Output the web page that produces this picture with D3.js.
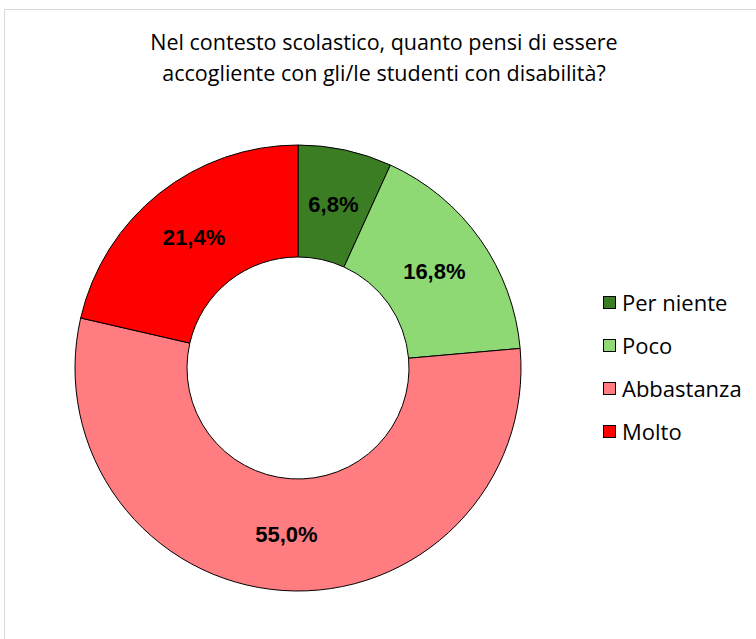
<!DOCTYPE html>
<html>
<head>
<meta charset="utf-8">
<script src="https://cdn.jsdelivr.net/npm/d3@7.9.0/dist/d3.min.js"></script>
<style>
  body { margin: 0; background: #fff; }
  svg { display: block; }
</style>
</head>
<body>
<svg id="chart" width="756" height="639"></svg>
<script>
const categories = ['Per niente', 'Poco', 'Abbastanza', 'Molto'];
const values = [6.8, 16.8, 55.0, 21.4];
const colorsList = ['#3b7d23', '#8ed973', '#ff7c80', '#ff0000'];
const titleLines = ['Nel contesto scolastico, quanto pensi di essere', 'accogliente con gli/le studenti con disabilità?'];

const svg = d3.select('#chart');

// chart area frame
svg.append('path')
  .attr('d', 'M4.5,639 V9.5 H756')
  .attr('fill', 'none')
  .attr('stroke', '#d9d9d9')
  .attr('stroke-width', 1);

svg.append('text')
  .attr('text-anchor', 'middle')
  .attr('font-family', 'Open Sans, sans-serif')
  .attr('font-size', 21.5)
  .attr('fill', '#000')
  .selectAll('tspan')
  .data(titleLines)
  .join('tspan')
  .attr('x', 384)
  .attr('y', (d, i) => 50 + i * 31)
  .text(d => d);

const color = d3.scaleOrdinal().domain(categories).range(colorsList);
const data = categories.map((c, i) => ({ label: c, value: values[i] }));

const cx = 298, cy = 368, outerR = 223, innerR = 111;
const pie = d3.pie().value(d => d.value).sort(null);
const arc = d3.arc().innerRadius(innerR).outerRadius(outerR);
const labelArc = d3.arc().innerRadius((innerR + outerR) / 2).outerRadius((innerR + outerR) / 2);

const g = svg.append('g').attr('transform', `translate(${cx},${cy})`);
const arcs = pie(data);

g.selectAll('path')
  .data(arcs)
  .join('path')
  .attr('d', arc)
  .attr('fill', d => color(d.data.label))
  .attr('stroke', '#000')
  .attr('stroke-width', 1);

g.selectAll('text')
  .data(arcs)
  .join('text')
  .attr('transform', d => `translate(${labelArc.centroid(d)})`)
  .attr('text-anchor', 'middle')
  .attr('dy', '0.35em')
  .attr('font-family', 'Liberation Sans, Arial, sans-serif')
  .attr('font-weight', 'bold')
  .attr('font-size', 22)
  .attr('fill', '#000')
  .text(d => d.data.value.toFixed(1).replace('.', ',') + '%');

const legend = svg.append('g').attr('transform', 'translate(603,303)');
const items = legend.selectAll('g')
  .data(categories)
  .join('g')
  .attr('transform', (d, i) => `translate(0,${i * 43})`);

items.append('rect')
  .attr('x', 0.5).attr('y', -6.5)
  .attr('width', 12).attr('height', 12)
  .attr('fill', d => color(d))
  .attr('stroke', '#000')
  .attr('stroke-width', 1);

items.append('text')
  .attr('x', 19)
  .attr('dy', '0.35em')
  .attr('font-family', 'Open Sans, sans-serif')
  .attr('font-size', 22)
  .attr('fill', '#000')
  .text(d => d);
</script>
</body>
</html>
